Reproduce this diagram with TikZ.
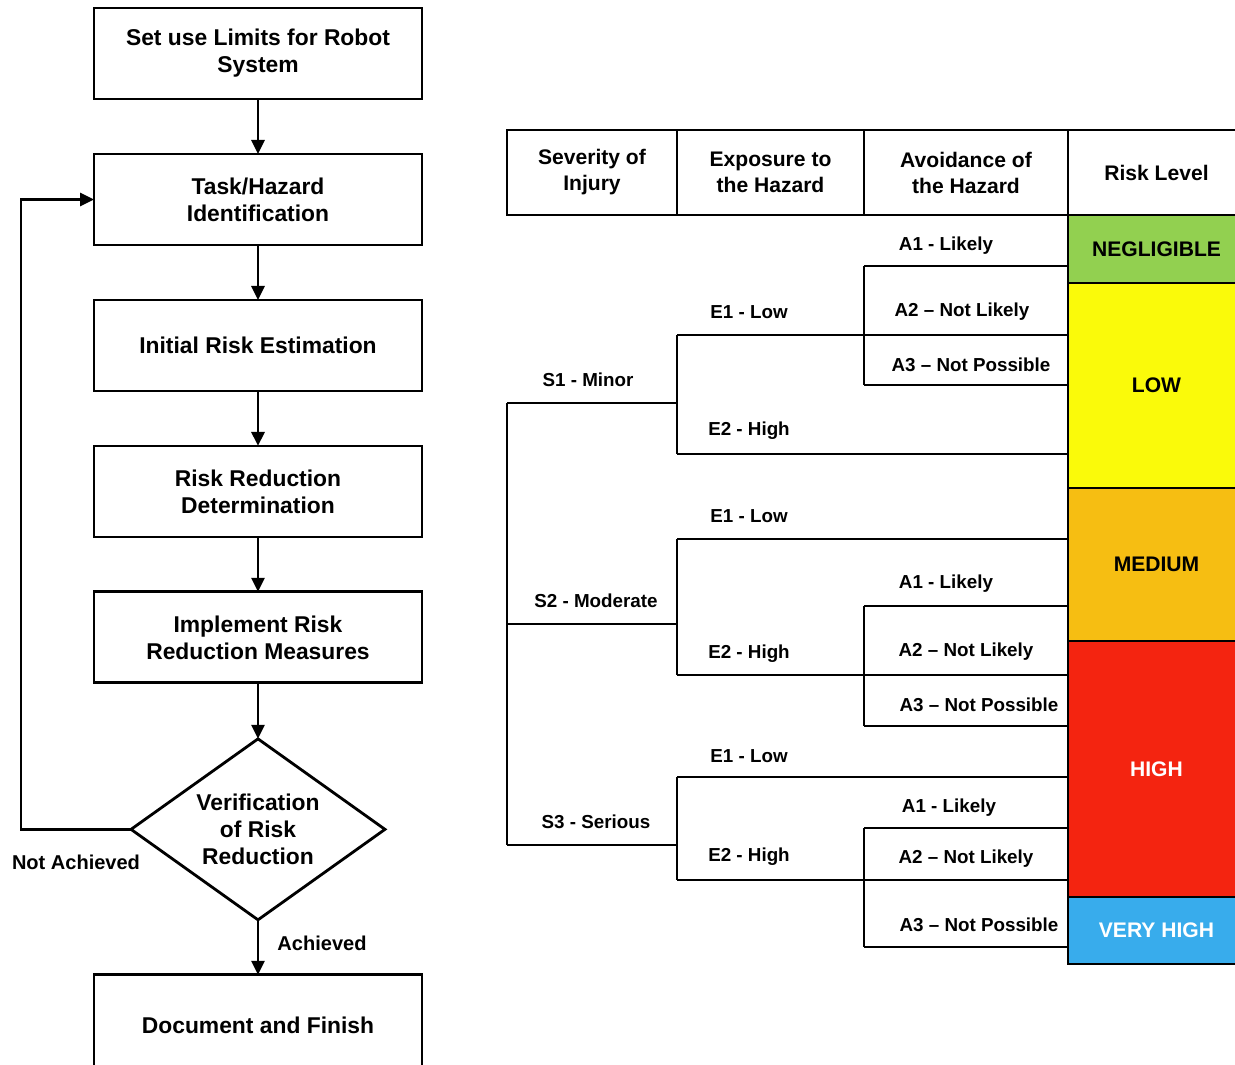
\documentclass[tikz,border=0pt]{standalone}
\usepackage{fontspec}
\setmainfont{Liberation Sans}
\usepackage{tikz}
\usetikzlibrary{arrows.meta, positioning, shapes.geometric}
\usepackage{xcolor}

\definecolor{neggreen}{HTML}{92D050}
\definecolor{lowyellow}{HTML}{FAFA0A}
\definecolor{medorange}{HTML}{F6BE12}
\definecolor{highred}{HTML}{F42410}
\definecolor{vhblue}{HTML}{38ACEC}

\begin{document}
\begin{tikzpicture}[
    x=0.02cm, y=-0.02cm,
    line width=1.6pt,
    font=\bfseries\fontsize{13}{15.4}\selectfont,
    node distance=1.1cm,
    box/.style={draw, minimum width=6.56cm, minimum height=1.82cm,
                align=center, inner sep=2pt, outer sep=0pt},
    check/.style={draw, diamond, aspect=1.4, minimum width=5.08cm,
                  minimum height=3.62cm, inner sep=0pt, outer sep=0pt,
                  align=center},
    arrow/.style={-{Triangle[length=0.28cm, width=0.26cm]}},
    tag/.style={font=\bfseries\fontsize{11.4}{13}\selectfont},
    head/.style={draw, minimum height=1.7cm, align=center, outer sep=0pt,
                 font=\bfseries\fontsize{12}{14.8}\selectfont},
    level/.style={draw, minimum width=3.54cm, inner sep=0pt, outer sep=0pt,
                  font=\bfseries\fontsize{12}{14}\selectfont},
    branch/.style={font=\bfseries\fontsize{10.7}{12}\selectfont}
]
\useasboundingbox (0,0) rectangle (1235,1065);

% --- Process chain ---
\node[box] (limits) at (258,53.5) {Set use Limits for Robot\\System};
\node[box, below=of limits] (task) {Task/Hazard\\Identification};
\node[box, below=of task] (initial) {Initial Risk Estimation};
\node[box, below=of initial] (determ) {Risk Reduction\\Determination};
\node[box, below=of determ] (implement) {Implement Risk\\Reduction Measures};
\node[check, below=1.12cm of implement] (verify) {Verification\\of Risk\\Reduction};
\node[box, below=of verify, minimum height=2.04cm] (finish) {Document and Finish};

\draw[arrow] (limits) -- (task);
\draw[arrow] (task) -- (initial);
\draw[arrow] (initial) -- (determ);
\draw[arrow] (determ) -- (implement);
\draw[arrow] (implement) -- (verify);
\draw[arrow] (verify) -- (finish);
\draw[arrow] (verify.west) -- ++(-2.2cm,0) |- (task.west);

\node[tag] (notach) at (76,862) {Not Achieved};
\node[tag] (ach) at (322,943) {Achieved};

% --- Table header ---
\node[head, minimum width=3.4cm] (sev) at (592,172.5) {Severity of\\Injury};
\node[head, minimum width=3.74cm] (expo) at (770.5,172.5) {Exposure to\\the Hazard};
\node[head, minimum width=4.08cm] (avoid) at (966,172.5) {Avoidance of\\the Hazard};
\node[head, minimum width=3.54cm] (risk) at (1156.5,172.5) {Risk Level};

% --- Risk levels ---
\node[level, fill=neggreen, minimum height=1.36cm] (neg) at (1156.5,249) {NEGLIGIBLE};
\node[level, fill=lowyellow, minimum height=4.1cm] (low) at (1156.5,385.5) {LOW};
\node[level, fill=medorange, minimum height=3.06cm] (med) at (1156.5,564.5) {MEDIUM};
\node[level, fill=highred, text=white, minimum height=5.12cm] (high) at (1156.5,769) {HIGH};
\node[level, fill=vhblue, text=white, minimum height=1.34cm] (vhigh) at (1156.5,930.5) {VERY HIGH};

% --- Severity branches ---
\draw (507,403) -- (507,845);
\draw (507,403) -- (677,403);
\draw (507,624) -- (677,624);
\draw (507,845) -- (677,845);
\node[branch] (s1) at (588,380) {S1 - Minor};
\node[branch] (s2) at (596,601) {S2 - Moderate};
\node[branch] (s3) at (596,822) {S3 - Serious};

% --- Exposure branches ---
\foreach \top/\bot in {335/454, 539/675, 777/880} {
  \draw (677,\top) -- (677,\bot);
  \draw (677,\top) -- (1068,\top);
  \draw (677,\bot) -- (1068,\bot);
}
\node[branch] at (749,312) {E1 - Low};
\node[branch] at (749,431) {E2 - High};
\node[branch] at (749,516) {E1 - Low};
\node[branch] at (749,654) {E2 - High};
\node[branch] at (749,756) {E1 - Low};
\node[branch] at (749,857) {E2 - High};

% --- Avoidance branches ---
\foreach \top/\bot in {266/385, 606/726, 828/947} {
  \draw (864,\top) -- (864,\bot);
  \draw (864,\top) -- (1068,\top);
  \draw (864,\bot) -- (1068,\bot);
}
\node[branch] at (946,246) {A1 - Likely};
\node[branch] at (962,312) {A2 -- Not Likely};
\node[branch] at (971,365) {A3 -- Not Possible};
\node[branch] at (946,584) {A1 - Likely};
\node[branch] at (966,652) {A2 -- Not Likely};
\node[branch] at (979,705) {A3 -- Not Possible};
\node[branch] at (949,808) {A1 - Likely};
\node[branch] at (966,859) {A2 -- Not Likely};
\node[branch] at (979,925) {A3 -- Not Possible};

\end{tikzpicture}
\end{document}
